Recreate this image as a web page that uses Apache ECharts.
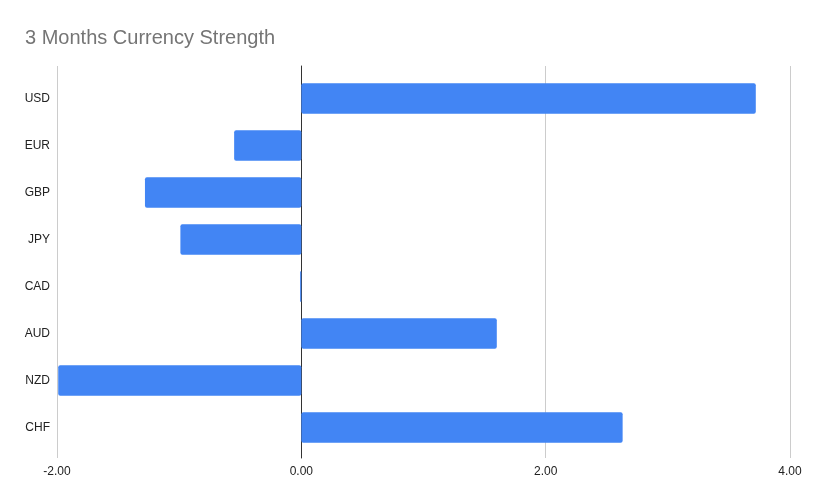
<!DOCTYPE html>
<html><head><meta charset="utf-8">
<script src="https://cdn.jsdelivr.net/npm/echarts@6/dist/echarts.min.js"></script>
<style>html,body{margin:0;padding:0;background:#fff}#c{width:816px;height:504px}</style>
</head><body><div id="c"></div>
<script>
const categories = ['USD','EUR','GBP','JPY','CAD','AUD','NZD','CHF'];
const values = [3.72, -0.55, -1.28, -0.99, -0.01, 1.60, -1.99, 2.63];
const xTicks = [-2, 0, 2, 4];

const chart = echarts.init(document.getElementById('c'), null, {renderer:'canvas'});
const fnt = 'Arial, "Liberation Sans", sans-serif';
chart.setOption({
  animation:false,
  backgroundColor:'#fff',
  title:{text:'3 Months Currency Strength', left:25, top:28, padding:0,
    textStyle:{color:'#757575', fontSize:20, fontWeight:'normal', fontFamily:fnt}},
  grid:[
    {left:57, right:26, top:66, bottom:46},
    {left:57, right:26, top:75, bottom:53}
  ],
  xAxis:[
    {type:'value', gridIndex:0, min:xTicks[0], max:xTicks[xTicks.length-1], interval:2,
     axisLine:{show:false}, axisTick:{show:false},
     splitLine:{lineStyle:{color:'#cccccc', width:1}},
     axisLabel:{color:'#222', fontSize:12, fontFamily:fnt, margin:8, formatter:v=>v.toFixed(2)}},
    {type:'value', gridIndex:1, min:xTicks[0], max:xTicks[xTicks.length-1], interval:2, show:false}
  ],
  yAxis:[
    {type:'category', gridIndex:0, data:categories, inverse:true,
     axisLine:{show:true, onZero:true, lineStyle:{color:'#333', width:1}},
     axisTick:{show:false}, axisLabel:{show:false}, splitLine:{show:false}},
    {type:'category', gridIndex:1, data:categories, inverse:true,
     axisLine:{show:false}, axisTick:{show:false},
     axisLabel:{color:'#222', fontSize:12, fontFamily:fnt, margin:7}}
  ],
  series:[{
    type:'bar', xAxisIndex:1, yAxisIndex:1, data:values,
    barCategoryGap:'35%',
    itemStyle:{color:'#4285f4', borderRadius:2}
  }]
});
</script></body></html>
